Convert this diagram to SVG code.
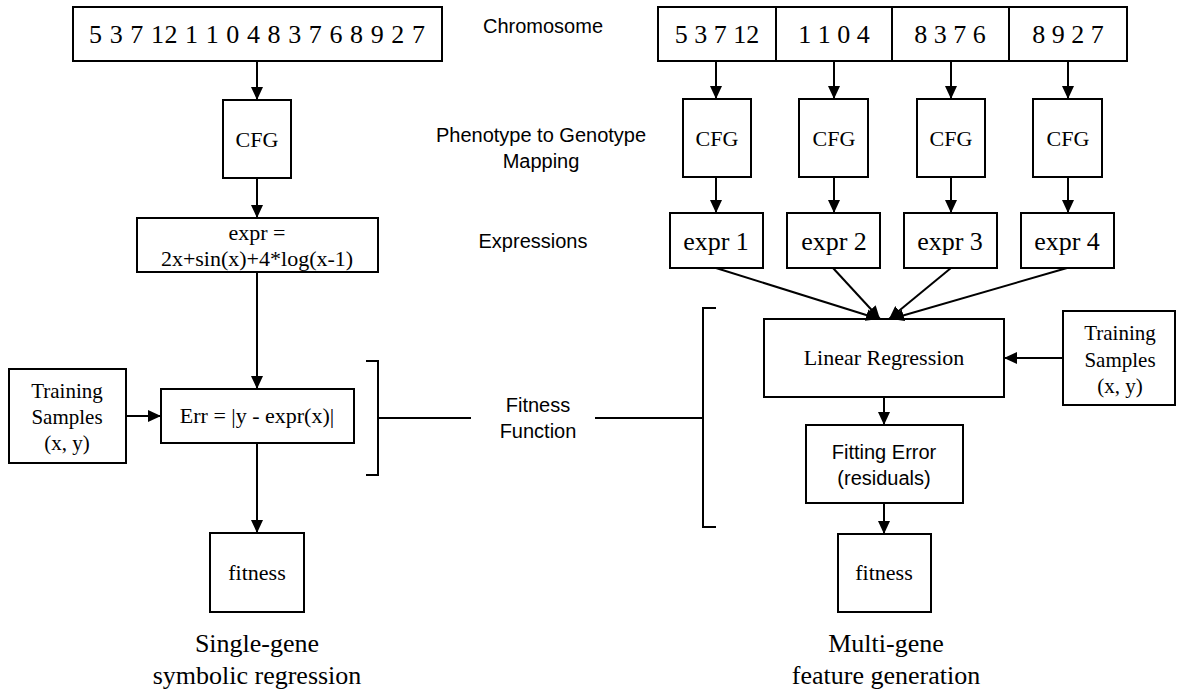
<svg xmlns="http://www.w3.org/2000/svg" width="1177" height="693" viewBox="0 0 1177 693">
<style>
rect{fill:#fff;stroke:#000;stroke-width:2}
.t{font-family:"Liberation Serif","Times New Roman",serif;fill:#000;text-anchor:middle}
.s{font-family:"Liberation Sans",Arial,sans-serif;fill:#000;text-anchor:middle;font-size:20px}
.c line,.c polyline{stroke:#000;stroke-width:2;fill:none}
.a{marker-end:url(#ah)}
</style>
<defs>
<marker id="ah" markerUnits="userSpaceOnUse" markerWidth="14" markerHeight="12" refX="13" refY="6" orient="auto">
<path d="M0,0 L13,6 L0,12 z" fill="#000"/>
</marker>
</defs>
<rect width="1177" height="693" style="stroke:none"/>

<g id="labels">
<text class="s" x="543" y="33">Chromosome</text>
<text class="s" x="541" y="142">Phenotype to Genotype</text>
<text class="s" x="541" y="168">Mapping</text>
<text class="s" x="533" y="248">Expressions</text>
<text class="s" x="538" y="412">Fitness</text>
<text class="s" x="538" y="438">Function</text>
<text class="t" x="257" y="652" font-size="26">Single-gene</text>
<text class="t" x="257" y="684" font-size="26">symbolic regression</text>
<text class="t" x="886" y="652" font-size="26">Multi-gene</text>
<text class="t" x="886" y="684" font-size="26">feature generation</text>
</g>

<g id="chromosome-left">
<rect x="73" y="7" width="369" height="54"/>
<text class="t" x="257" y="43" font-size="26" textLength="336" lengthAdjust="spacing">5 3 7 12 1 1 0 4 8 3 7 6 8 9 2 7</text>
</g>
<g id="cfg-left">
<rect x="223" y="100" width="68" height="78"/>
<text class="t" x="257" y="147" font-size="22">CFG</text>
</g>
<g id="expr-left">
<rect x="137" y="218" width="241" height="54"/>
<text class="t" x="257" y="240" font-size="22">expr =</text>
<text class="t" x="257" y="266" font-size="22">2x+sin(x)+4*log(x-1)</text>
</g>
<g id="training-left">
<rect x="9" y="369" width="117" height="94"/>
<text class="t" x="67" y="398" font-size="21">Training</text>
<text class="t" x="67" y="424" font-size="21">Samples</text>
<text class="t" x="67" y="450" font-size="21">(x, y)</text>
</g>
<g id="err">
<rect x="161" y="389" width="193" height="54"/>
<text class="t" x="257" y="423" font-size="22">Err = |y - expr(x)|</text>
</g>
<g id="fitness-left">
<rect x="210" y="533" width="94" height="79"/>
<text class="t" x="257" y="580" font-size="22">fitness</text>
</g>

<g id="chromosome-right">
<rect x="658" y="7" width="118" height="54"/>
<rect x="776" y="7" width="116" height="54"/>
<rect x="892" y="7" width="117" height="54"/>
<rect x="1009" y="7" width="118" height="54"/>
<text class="t" x="717" y="43" font-size="26">5 3 7 12</text>
<text class="t" x="834" y="43" font-size="26">1 1 0 4</text>
<text class="t" x="950" y="43" font-size="26">8 3 7 6</text>
<text class="t" x="1068" y="43" font-size="26">8 9 2 7</text>
</g>
<g id="cfg-1"><rect x="683" y="99" width="68" height="78"/><text class="t" x="717" y="146" font-size="22">CFG</text></g>
<g id="cfg-2"><rect x="799" y="99" width="69" height="78"/><text class="t" x="834" y="146" font-size="22">CFG</text></g>
<g id="cfg-3"><rect x="917" y="99" width="68" height="78"/><text class="t" x="951" y="146" font-size="22">CFG</text></g>
<g id="cfg-4"><rect x="1033" y="99" width="69" height="78"/><text class="t" x="1068" y="146" font-size="22">CFG</text></g>
<g id="expr-1"><rect x="670" y="213" width="93" height="55"/><text class="t" x="716" y="250" font-size="26">expr 1</text></g>
<g id="expr-2"><rect x="787" y="213" width="93" height="55"/><text class="t" x="834" y="250" font-size="26">expr 2</text></g>
<g id="expr-3"><rect x="904" y="213" width="93" height="55"/><text class="t" x="950" y="250" font-size="26">expr 3</text></g>
<g id="expr-4"><rect x="1021" y="213" width="93" height="55"/><text class="t" x="1067" y="250" font-size="26">expr 4</text></g>
<g id="linear-regression">
<rect x="764" y="319" width="240" height="78"/>
<text class="t" x="884" y="365" font-size="22">Linear Regression</text>
</g>
<g id="training-right">
<rect x="1063" y="311" width="112" height="94"/>
<text class="t" x="1120" y="340" font-size="21">Training</text>
<text class="t" x="1120" y="367" font-size="21">Samples</text>
<text class="t" x="1120" y="393" font-size="21">(x, y)</text>
</g>
<g id="fitting-error">
<rect x="806" y="425" width="157" height="78"/>
<text class="s" x="884" y="459">Fitting Error</text>
<text class="s" x="884" y="485">(residuals)</text>
</g>
<g id="fitness-right">
<rect x="838" y="534" width="93" height="78"/>
<text class="t" x="884" y="580" font-size="22">fitness</text>
</g>

<g id="connectors" class="c">
<line class="a" x1="257" y1="61" x2="257" y2="100"/>
<line class="a" x1="257" y1="178" x2="257" y2="218"/>
<line class="a" x1="257" y1="272" x2="257" y2="389"/>
<line class="a" x1="126" y1="416" x2="161" y2="416"/>
<line class="a" x1="257" y1="443" x2="257" y2="533"/>
<polyline points="366,361 378,361 378,475 366,475"/>
<line x1="378" y1="418" x2="471" y2="418"/>
<line x1="595" y1="418" x2="703" y2="418"/>
<polyline points="716,308 703,308 703,527 716,527"/>
<line class="a" x1="716" y1="61" x2="716" y2="99"/>
<line class="a" x1="834" y1="61" x2="834" y2="99"/>
<line class="a" x1="951" y1="61" x2="951" y2="99"/>
<line class="a" x1="1068" y1="61" x2="1068" y2="99"/>
<line class="a" x1="716" y1="177" x2="716" y2="213"/>
<line class="a" x1="834" y1="177" x2="834" y2="213"/>
<line class="a" x1="951" y1="177" x2="951" y2="213"/>
<line class="a" x1="1068" y1="177" x2="1068" y2="213"/>
<line class="a" x1="716" y1="268" x2="879" y2="319"/>
<line class="a" x1="833" y1="268" x2="880" y2="319"/>
<line class="a" x1="951" y1="268" x2="889" y2="319"/>
<line class="a" x1="1067" y1="268" x2="891" y2="319"/>
<line class="a" x1="1063" y1="358" x2="1004" y2="358"/>
<line class="a" x1="884" y1="397" x2="884" y2="425"/>
<line class="a" x1="884" y1="503" x2="884" y2="534"/>
</g>
</svg>
